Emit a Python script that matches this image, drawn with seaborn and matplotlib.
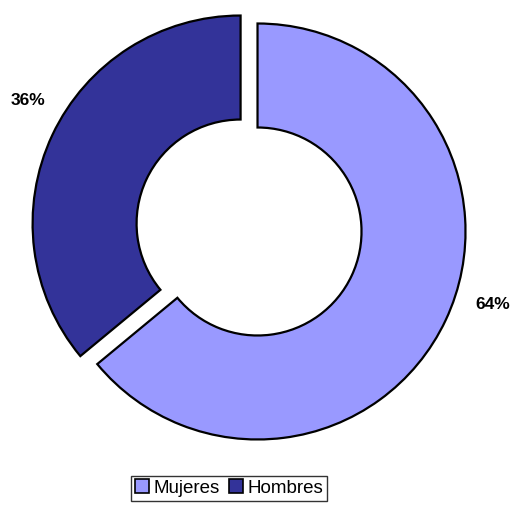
import matplotlib
matplotlib.use("Agg")
import matplotlib.pyplot as plt
import seaborn as sns
from matplotlib.patches import Patch

# datos
categorias = ["Mujeres", "Hombres"]
valores = [64, 36]
colores = ["#9999FF", "#333399"]
etiquetas = ["64%", "36%"]

sns.set_theme(style="white")
plt.rcParams['font.family'] = ['Liberation Sans', 'DejaVu Sans']
plt.rcParams['text.color'] = 'black'

fig = plt.figure(figsize=(5.14, 5.05), dpi=100)
ax = fig.add_axes([0, 0, 1, 1])

wedges, _ = ax.pie(valores, colors=colores, startangle=90, counterclock=False,
                   explode=[0, 0.09], radius=1,
                   wedgeprops=dict(width=0.50, edgecolor="black", linewidth=1.6))

ax.set_aspect("equal")
ax.set_xlim(-1.238, 1.233)
ax.set_ylim(-1.315, 1.113)
ax.axis("off")

ax.text(1.13, -0.35, etiquetas[0], ha="center", va="center", fontsize=12.5,
        fontweight="bold", color="black")
ax.text(-1.105, 0.63, etiquetas[1], ha="center", va="center", fontsize=12.5,
        fontweight="bold", color="black")

handles = [Patch(facecolor=c, edgecolor="black", linewidth=1.2) for c in colores]
leg = fig.legend(handles, categorias, loc="upper center", bbox_to_anchor=(0.446, 0.058),
                 ncol=2, frameon=True, fancybox=False, fontsize=13.5,
                 handlelength=0.75, handleheight=0.75, handletextpad=0.25,
                 columnspacing=0.5, borderpad=0.2, borderaxespad=0)
leg.get_frame().set_edgecolor("black")
leg.get_frame().set_linewidth(1.0)
for t in leg.get_texts():
    t.set_color("black")

fig.savefig("out.png", dpi=100, facecolor="white")
